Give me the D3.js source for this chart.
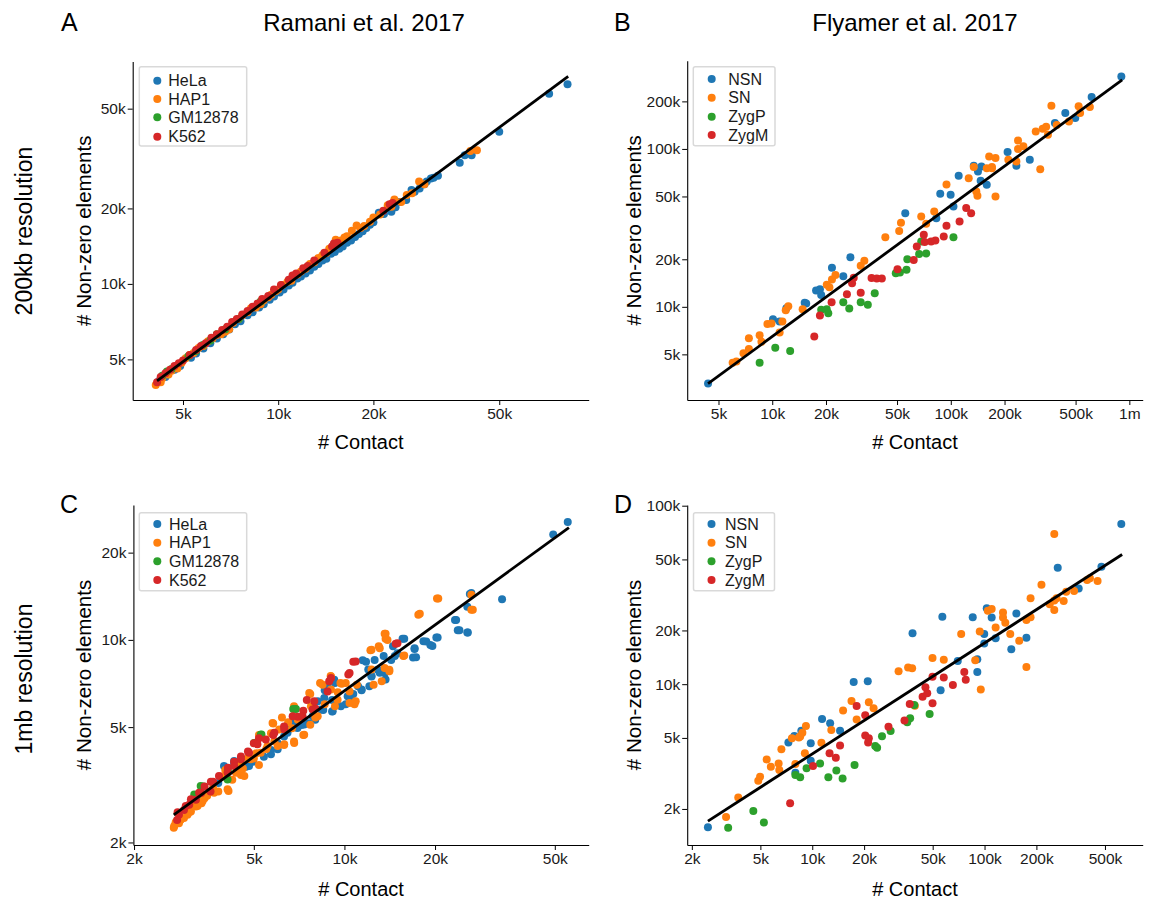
<!DOCTYPE html>
<html><head><meta charset="utf-8">
<script src="https://cdn.jsdelivr.net/npm/d3@7"></script>
<style>
body{margin:0;background:#fff}
text{font-family:"Liberation Sans",Arial,Helvetica,sans-serif}
</style>
</head><body>
<svg id="chart" width="1149" height="902"></svg>
<script>
// ---------------- DATA ----------------
const ramaniNames = ["HeLa","HAP1","GM12878","K562"];
const flyamerNames = ["NSN","SN","ZygP","ZygM"];

// Panel A: Ramani, 200kb  [contacts, non-zero elements]
const A_HeLa = [[4200,4100],[4700,4550],[5300,5080],[5800,5520],[6400,6050],[7000,6580],[7600,7100],[8300,7700],[9000,8300],[9700,8900],[10400,9500],[11100,10100],[11800,10700],[12600,11300],[13400,12000],[14200,12600],[15100,13400],[16000,14100],[17000,14900],[18000,15800],[19000,16700],[20000,17600],[20800,19200],[21600,19000],[22800,19400],[24200,21200],[25400,21600],[26400,23700],[28000,24000],[29000,25000],[29500,25600],[30400,26300],[37500,30400],[38900,32600],[40900,32600],[50000,40400],[71900,57400],[82200,62500],
  [4400,4250],[4900,4700],[5500,5280],[6100,5800],[6700,6300],[7300,6900],[8000,7500],[8700,8050],[9400,8650],[10100,9250],[10800,9850],[11500,10500],[12200,11000],[13000,11700],[13800,12400],[14700,13200],[15600,13800],[16500,14600],[17500,15400],[18500,16200],[19500,17200],[23500,20200],[27000,23300],[31000,26500],[32000,27000]];
const A_HAP1 = [[4100,3950],[4300,4200],[4500,4350],[4800,4600],[5100,5050],[5400,5300],[5800,5650],[6200,6050],[6600,6300],[7000,6600],[7500,7250],[8000,7700],[8500,8050],[9000,8600],[9500,9050],[10000,9500],[10700,10200],[11500,10900],[12200,11500],[13000,12200],[13800,13000],[14500,13800],[15200,15000],[15800,14900],[16500,15500],[17100,16300],[17700,17100],[18700,17000],[19500,17700],[21000,18900],[22200,20600],[23300,21700],[24500,21200],[27900,25600],[40500,33900],[42500,34100],
  [4250,4050],[4600,4500],[4950,4850],[5250,5200],[5600,5550],[6000,5900],[6400,6250],[6800,6450],[7200,7000],[7700,7500],[8200,8000],[8800,8300],[9300,8850],[9800,9350],[10300,9900],[11000,10300],[11800,11200],[12600,12000],[13400,12700],[14200,13300],[15500,14600],[16200,15300],[18200,16700],[20000,18400],[22800,20300],[25500,22600],[26500,23000],[29000,25000]];
const A_GM12878 = [[4300,4300],[4450,4470],[5200,5150],[5780,5700],[6400,6300],[6800,6590],[8800,8500],[4600,4580],[5500,5400],[6100,5950],[7500,7250]];
const A_K562 = [[4140,4050],[4400,4400],[4700,4700],[5000,4950],[5500,5450],[5900,5800],[6400,6300],[6900,6750],[7400,7250],[8000,7800],[8600,8350],[9300,8950],[10200,9900],[10800,10400],[11400,11000],[12000,11550],[12400,11800],[14800,14100],[15000,14500],[22500,20800],
  [4250,4250],[4550,4550],[4850,4830],[5250,5200],[5700,5650],[6150,6100],[6650,6550],[7150,7050],[7700,7550],[8300,8100],[8900,8700],[9700,9500],[11100,10800],[13000,12400],[14000,13300],[15400,14600],[21500,19600],[23000,21000]];

// Panel B: Flyamer, 200kb
const B_NSN = [[4370,3270],[902000,288000],[615000,213000],[438000,169000],[498000,157000],[383000,146000],[208000,95500],[233000,78200],[277000,85300],[134500,78200],[148500,77500],[142000,71900],[147000,62800],[159000,59300],[110700,67600],[87300,52000],[99800,51200],[103500,43200],[83000,36400],[55600,39200],[27400,20600],[21600,17700],[25000,15600],[17600,12700],[18500,12900],[18800,11900],[15200,10600],[15500,10500],[12000,9800],[10100,8340],[11000,8060]];
const B_SN = [[6000,4430],[6300,4500],[6900,5080],[7400,5400],[7400,6320],[8500,6600],[8700,6020],[9400,7790],[9900,7850],[11000,6870],[11400,8060],[11900,9500],[12300,10100],[14800,9650],[20200,13800],[20900,13300],[21600,14900],[22600,15900],[31300,18200],[32800,19600],[43000,27600],[51400,30200],[52600,34100],[68300,37300],[72800,33600],[80800,40100],[94600,59500],[126000,65300],[134500,76800],[139000,53700],[141000,50500],[178000,50000],[159000,75500],[164000,89600],[170000,76800],[178000,87500],[210000,85300],[233000,83300],[238000,113000],[238000,100000],[255000,104000],[317000,74400],[366000,188000],[299000,129000],[327000,134000],[342000,138000],[350000,123000],[392000,142000],[459000,149000],[520000,186000],[530000,169000],[601000,184000],[170000,75500]];
const B_ZygP = [[8500,4430],[10400,5500],[12600,5250],[18800,9600],[20200,9650],[20600,9100],[25000,10700],[27000,9750],[31300,10700],[34300,10300],[37500,12200],[49200,16300],[51900,16500],[57100,20000],[56500,17200],[66500,21600],[68300,25900],[72800,21800],[103500,27600]];
const B_ZygM = [[17200,6480],[18500,8800],[21500,10700],[26200,12000],[28000,14100],[28600,15300],[31300,12300],[36000,15200],[38500,15100],[41100,15100],[50300,17300],[62000,19800],[64500,24100],[70600,28600],[71400,25700],[77600,25900],[82000,26300],[91300,27900],[94600,32600],[112000,34700],[122000,42200],[130000,39200]];

// Panel C: Ramani, 1mb
const C_HeLa = [[55200,25500],[49400,23100],[33400,13800],[26100,14400],[25600,13000],[23300,11700],[23800,10800],[25600,10600],[20200,10200],[15600,10100],[18300,9900],[19300,9600],[17100,9300],[16900,8700],[14500,9500],[13500,8800],[14700,8800],[11800,8400],[12000,7900],[12300,7500],[13100,7700],[13700,7300],[11400,6700],[10700,6500],[10500,6300],[10100,6000],[9300,7100],[8600,6700],[9100,6200],[9100,5660],[8500,5730],[8000,5300],[7600,5160],[7200,5090],[6800,5230],[6500,4900],[6300,4640],[6000,4400],[5700,4170],[5400,3950],[4970,3800],[4710,3650],[4300,3760],[4020,3380],[3810,3210],[3620,3000],[3420,2880],[3260,2770],[11500,8500],
  [3980,3670],[4300,3820],[4820,3670],[5700,4030],[6000,4190],[6470,4780],[6980,4970],[7350,5110],[7840,5450],[8360,5750],[8150,6140],[8570,6300],[8790,6920],[9250,7280],[9140,5670],[9730,5900],[10250,6390],[11100,6920],[11400,6740],[12100,6920],[12300,7480],[12600,8530],[12900,7890],[13600,7680],[14300,8530],[15000,9000],[15800,10100],[17100,9360],[17300,8710],[18700,9870],[19600,9530],[20400,10200],[23500,11700],[24100,10800],[25700,10600],[26400,14500]];
const C_HAP1 = [[26400,14300],[26400,12700],[20300,13900],[17600,12200],[13600,10500],[13700,10100],[13000,9500],[15700,8800],[12200,9200],[12300,7900],[13300,7200],[14100,7800],[10800,6000],[10100,7100],[9700,7100],[9000,7500],[8300,7100],[7700,6500],[8600,6000],[9300,5900],[7700,5100],[7300,4700],[6800,5900],[6800,4460],[6700,4960],[6300,4340],[5800,5150],[5700,4760],[5200,4700],[5100,4060],[5200,3700],[4780,3910],[4470,3610],[4530,3420],[4240,3290],[4020,3560],[3910,3380],[4120,3010],[3810,3000],[3660,3080],[3430,2840],[3350,2730],[3210,2660],[3090,2560],[3010,2490],[2850,2390],[2710,2250],[2820,2330],[2930,2430],[6000,4300],[5500,4200],[5000,3900],[4600,3600],[3500,2900],[3200,2750],[7000,5300],[8000,5400],[11000,7000],[12500,7000],[9500,6600],[6200,5400],[6500,5200],[3000,2600],[2750,2350],
  [2720,2280],[2860,2400],[3050,2540],[3250,2670],[3380,2780],[3690,2970],[4090,3050],[4360,3480],[4530,3770],[4650,3390],[4880,3870],[5270,4080],[5550,4300],[5770,5170],[5850,4470],[6070,4910],[6310,4360],[6810,4410],[7350,4710],[7640,6560],[7740,5900],[8150,5450],[8460,7000],[9020,7480],[9020,6740],[9490,6220],[9790,7060],[10400,6060],[10900,6140],[10400,6640],[12300,9240],[13100,9360],[13700,10500],[13900,10000],[13600,8000],[14100,7890],[15800,8830],[17800,12300],[20500,13900],[26700,12700]];
const C_GM12878 = [[6900,5780],[5300,4720],[5100,4420],[4100,3560],[3400,3120],[3250,2920],[3330,3130],[3170,2930],[4090,3300],[5270,4710],[5010,4410],[6760,5780]];
const C_K562 = [[14800,9700],[10700,8400],[10300,7600],[8900,7200],[7500,6200],[8000,5800],[7300,5700],[7000,5430],[6300,5020],[5800,4700],[5200,4580],[5000,4400],[4780,4120],[4530,3960],[4300,3800],[4100,3620],[3660,3240],[3430,3120],[3340,2960],[3210,2810],[3050,2700],[2930,2590],[2820,2490],[2780,2390],[3590,3000],
  [2790,2540],[2970,2670],[3090,2820],[3290,2970],[3600,3240],[3830,3390],[4090,3480],[4300,3670],[4530,3870],[4820,4080],[5140,4360],[5480,4530],[5850,4780],[6310,4910],[6730,5450],[7260,5450],[7840,5750],[7940,6140],[8790,6640],[9020,7380],[10400,7680],[10900,8430],[15000,9740]];

// Panel D: Flyamer, 1mb
const D_NSN = [[2480,1580],[622000,78900],[266000,44900],[477000,45500],[352000,34400],[56900,23900],[85400,23700],[103000,26600],[110000,23600],[153000,24900],[99600,19100],[99600,16900],[116000,18100],[143000,15700],[175000,18200],[38200,19300],[17400,10300],[21000,10400],[69900,13500],[90800,13800],[90800,11700],[55600,9240],[11400,6390],[12700,6040],[14500,5490],[7270,4720],[7870,5130],[8640,5490],[9800,4660],[9800,3730],[7980,3190]];
const D_SN = [[3160,1800],[3720,2320],[4860,2880],[4980,3030],[5440,3790],[5750,3450],[6380,3600],[6440,3310],[6620,4320],[7620,4980],[8360,5020],[8510,5090],[8760,5350],[9190,5830],[9060,4100],[7980,3570],[11300,4700],[12900,5540],[15100,7110],[16900,8050],[18100,6350],[21300,7910],[22700,7330],[31700,11800],[36000,12400],[38000,12300],[39400,7580],[49900,14000],[58000,13700],[73200,19100],[88300,13600],[93800,19700],[95100,9350],[104500,25800],[110000,26400],[116000,20800],[128000,25200],[128000,23600],[132000,22100],[141000,19100],[159000,17500],[175000,12500],[175000,22900],[185000,23700],[185000,30300],[214000,36100],[239000,28000],[254000,26000],[254000,29400],[262000,30300],[288000,29200],[298000,33000],[331000,33300],[394000,38300],[409000,39200],[453000,37900],[254000,69300]];
const D_ZygP = [[3250,1570],[4550,1950],[5240,1680],[7980,3100],[8510,3010],[9270,3380],[11100,3600],[12400,3010],[13800,3280],[15000,2960],[17600,3530],[23200,4510],[23800,4410],[25400,5110],[28500,5470],[35600,6110],[37000,6440],[39100,7640],[48000,6810]];
const D_ZygM = [[7440,2150],[10100,3480],[12600,4100],[13700,3870],[14500,4530],[18100,7550],[20300,6690],[20300,5150],[21300,4980],[21100,4720],[27700,5780],[34300,6250],[36800,7740],[43700,8510],[45400,9610],[46500,8890],[49900,7810],[49900,11000],[58000,10900],[65500,9900],[76300,11700],[77800,10600]];

// fitted regression lines (endpoints)
const lineA = [[4140,4100],[82600,67300]];
const lineB = [[4370,3260],[912000,274000]];
const lineC = [[2710,2490],[55700,24400]];
const lineD = [[2480,1710],[629000,53300]];

// tick values
const ticksA_x = [5000,10000,20000,50000];
const ticksA_y = [5000,10000,20000,50000];
const ticksB_x = [5000,10000,20000,50000,100000,200000,500000,1000000];
const ticksB_y = [5000,10000,20000,50000,100000,200000];
const ticksC_x = [2000,5000,10000,20000,50000];
const ticksC_y = [2000,5000,10000,20000];
const ticksD_x = [2000,5000,10000,20000,50000,100000,200000,500000];
const ticksD_y = [2000,5000,10000,20000,50000,100000];

// ---------------- DRAW ----------------
const colors = ["#1f77b4","#ff7f0e","#2ca02c","#d62728"];
const drawOrder = [0,1,2,3];
const fmt = v => v >= 1e6 ? (v/1e6)+"m" : (v/1e3)+"k";
const R = 4;

const svg = d3.select("#chart");
svg.append("rect").attr("width",1149).attr("height",902).attr("fill","#fff");

const panels = [
  {series:[A_HeLa,A_HAP1,A_GM12878,A_K562], names:ramaniNames, line:lineA,
   xd:[3467,95900], yd:[3443,77100], xr:[132.7,588.7], yr:[400,61.5], xt:ticksA_x, yt:ticksA_y,
   leg:{x:139.3,y:66.7,w:107.4,h:79.3,dot:157.3,tx:168.3,rows:[80.7,99,117.3,136.7]}, ytX:91, xtY:449},
  {series:[B_NSN,B_SN,B_ZygP,B_ZygM], names:flyamerNames, line:lineB,
   xd:[3340,1188000], yd:[2570,362000], xr:[687.2,1142.7], yr:[400,60.7], xt:ticksB_x, yt:ticksB_y,
   leg:{x:693.3,y:66.7,w:81.7,h:79,dot:711.7,tx:728.3,rows:[79,97.7,116.7,135]}, ytX:641, xtY:449},
  {series:[C_HeLa,C_HAP1,C_GM12878,C_K562], names:ramaniNames, line:lineC,
   xd:[1990,64800], yd:[1960,29200], xr:[133.4,588.7], yr:[845,505], xt:ticksC_x, yt:ticksC_y,
   leg:{x:139.3,y:512.7,w:107.4,h:78,dot:157.3,tx:169,rows:[524,542.7,561.3,580]}, ytX:91, xtY:896},
  {series:[D_NSN,D_SN,D_ZygP,D_ZygM], names:flyamerNames, line:lineD,
   xd:[1880,828000], yd:[1256,100900], xr:[687.2,1142.7], yr:[845,505], xt:ticksD_x, yt:ticksD_y,
   leg:{x:693.5,y:512.7,w:81,h:78,dot:711.5,tx:725,rows:[524,542.7,561.3,580]}, ytX:641, xtY:896}
];

panels.forEach(p => {
  const x = d3.scaleLog().domain(p.xd).range(p.xr);
  const y = d3.scaleLog().domain(p.yd).range(p.yr);
  const g = svg.append("g");

  drawOrder.forEach(i => {
    g.append("g").selectAll("circle").data(p.series[i]).join("circle")
      .attr("cx", d => x(d[0])).attr("cy", d => y(d[1]))
      .attr("r", R).attr("fill", colors[i]);
  });

  g.append("path").datum(p.line)
    .attr("d", d3.line().x(d => x(d[0])).y(d => y(d[1])))
    .attr("stroke","#000").attr("stroke-width",2.8).attr("fill","none");

  const ax = g.append("g").attr("transform",`translate(0,${p.yr[0]})`)
    .call(d3.axisBottom(x).tickValues(p.xt).tickFormat(fmt).tickSize(5).tickSizeOuter(0).tickPadding(3));
  const ay = g.append("g").attr("transform",`translate(${p.xr[0]},0)`)
    .call(d3.axisLeft(y).tickValues(p.yt).tickFormat(fmt).tickSize(5).tickSizeOuter(0).tickPadding(2));
  [ax, ay].forEach(a => {
    a.select(".domain").attr("stroke","#000").attr("stroke-width",1.1);
    a.selectAll(".tick line").attr("stroke","#000").attr("stroke-width",1);
    a.selectAll(".tick text").attr("fill","#1a1a1a").style("font-size","15.5px")
      .style("font-family",'"Liberation Sans",Arial,sans-serif');
  });

  g.append("text").attr("x",(p.xr[0]+p.xr[1])/2).attr("y",p.xtY)
    .attr("text-anchor","middle").style("font-size","20px").attr("fill","#000").text("# Contact");
  g.append("text").attr("transform",`translate(${p.ytX},${(p.yr[0]+p.yr[1])/2}) rotate(-90)`)
    .attr("text-anchor","middle").style("font-size","20.5px").attr("fill","#000").text("# Non-zero elements");

  const L = p.leg;
  g.append("rect").attr("x",L.x).attr("y",L.y).attr("width",L.w).attr("height",L.h)
    .attr("rx",2).attr("fill","#fff").attr("stroke","#d9d9d9").attr("stroke-width",1.5);
  p.names.forEach((n,i) => {
    g.append("circle").attr("cx",L.dot).attr("cy",L.rows[i]).attr("r",R).attr("fill",colors[i]);
    g.append("text").attr("x",L.tx).attr("y",L.rows[i]).attr("dy","0.36em")
      .style("font-size","16px").attr("fill","#1a1a1a").text(n);
  });
});

const big = (t, x, y, size, anchor) => svg.append("text").attr("x",x).attr("y",y)
  .attr("text-anchor",anchor||"start").style("font-size",size+"px").attr("fill","#000").text(t);
big("A", 61, 31, 25);
big("B", 614, 31, 25);
big("C", 60, 513, 25);
big("D", 614, 513, 25);
big("Ramani et al. 2017", 364, 31, 24, "middle");
big("Flyamer et al. 2017", 915, 31, 24, "middle");
svg.append("text").attr("transform","translate(32,231) rotate(-90)").attr("text-anchor","middle")
  .style("font-size","23px").attr("fill","#000").text("200kb resolution");
svg.append("text").attr("transform","translate(32,679) rotate(-90)").attr("text-anchor","middle")
  .style("font-size","23px").attr("fill","#000").text("1mb resolution");
</script>
</body></html>
